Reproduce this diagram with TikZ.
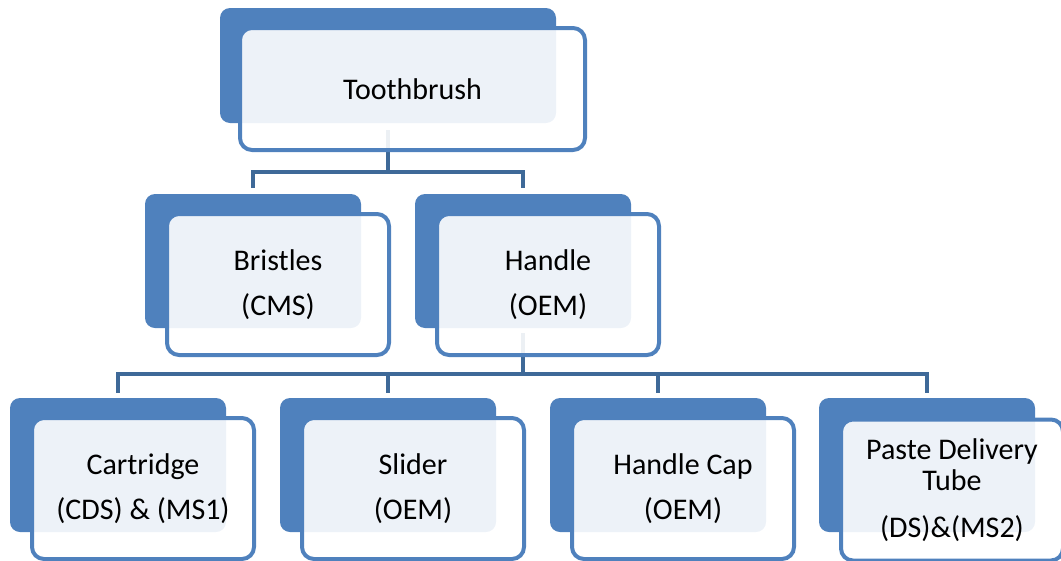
\documentclass[tikz,border=0pt]{standalone}
\usepackage{fontspec}
\setmainfont{Carlito}
\definecolor{accent}{HTML}{4F81BD}
\definecolor{connc}{HTML}{3E6998}
\pgfdeclarelayer{bg}
\pgfsetlayers{bg,main}
\begin{document}
\begin{tikzpicture}[x=1pt,y=-1pt,
  backbox/.style={fill=accent, draw=none, rounded corners=10pt, inner sep=0pt},
  frontbox/.style={draw=accent, line width=4pt, fill=white, fill opacity=0.9, text opacity=1,
    rounded corners=12pt, inner sep=0pt, align=center, text=black,
    font=\fontsize{30}{31}\selectfont},
  midback/.style={backbox, minimum width=216pt, minimum height=134pt},
  midfront/.style={frontbox, minimum width=222pt, minimum height=141pt},
  conn/.style={draw=connc, line width=4.5pt}]
\useasboundingbox (0,0) rectangle (1061,560);

% Top
\node[backbox, minimum width=336pt, minimum height=115pt] (tbb) at (388,65.5) {};
\node[frontbox, minimum width=345pt, minimum height=122pt] (tb) at (412.5,89) {Toothbrush};

% Middle row
\node[midback] (brb) at (253,261) {};
\node[midfront] (br) at (278,284.5) {Bristles\\[14pt](CMS)};
\node[midback] (hab) at (523,261) {};
\node[midfront] (ha) at (548,284.5) {Handle\\[14pt](OEM)};

% Bottom row
\node[midback] (cab) at (118,465) {};
\node[midfront] (ca) at (143,488.5) {Cartridge\\[14pt](CDS) \& (MS1)};
\node[midback] (slb) at (388,465) {};
\node[midfront] (sl) at (413,488.5) {Slider\\[14pt](OEM)};
\node[midback] (hcb) at (658,465) {};
\node[midfront] (hc) at (683,488.5) {Handle Cap\\[14pt](OEM)};
\node[midback] (pdb) at (927,465) {};
\node[midfront] (pd) at (952,490) {Paste Delivery\\Tube\\[16pt](DS)\&(MS2)};

\begin{pgfonlayer}{bg}
  \coordinate (j1) at (388,172);
  \draw[conn] ([yshift=-7pt]tbb.south) -- (j1);
  \draw[conn] ([yshift=6pt]brb.north) |- (j1) -| ([yshift=6pt]hab.north);
  \coordinate (j2) at (523,374);
  \draw[conn] ([yshift=-5pt]hab.south) -- (j2);
  \draw[conn] ([yshift=5pt]cab.north) |- (j2) -| ([yshift=5pt]pdb.north);
  \draw[conn] (j2 -| slb.north) -- ([yshift=5pt]slb.north);
  \draw[conn] (j2 -| hcb.north) -- ([yshift=5pt]hcb.north);
\end{pgfonlayer}
\end{tikzpicture}
\end{document}
